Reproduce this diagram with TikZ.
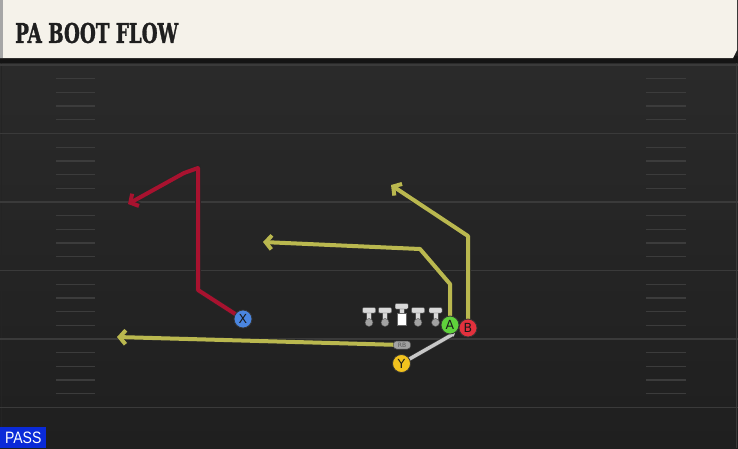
\documentclass[tikz,border=0pt]{standalone}
\usepackage{fontspec}
\usepackage{graphicx}
\usetikzlibrary{arrows.meta}
\newfontfamily\titlefont[FakeBold=1.6]{DejaVu Serif}
\newfontfamily\lblfont{DejaVu Sans}
\newfontfamily\passfont{Liberation Sans}
\definecolor{cream}{HTML}{F5F2EA}
\definecolor{fieldtop}{HTML}{2A2A2A}
\definecolor{fieldbot}{HTML}{1F1F1F}
\definecolor{yardline}{HTML}{3A3A3A}
\definecolor{hashcol}{HTML}{3C3C3C}
\definecolor{routeY}{HTML}{BAB84F}
\definecolor{routeR}{HTML}{A8122F}
\definecolor{pblue}{HTML}{4A86E0}
\definecolor{pgreen}{HTML}{5FD23C}
\definecolor{pred}{HTML}{E2313D}
\definecolor{pyellow}{HTML}{F2C21E}
\definecolor{passblue}{HTML}{0A2AD8}
\definecolor{tgray}{HTML}{D9D9D9}
\definecolor{cgray}{HTML}{A2A2A2}
\definecolor{fakegray}{HTML}{C8C8C8}
\pgfdeclarelayer{fieldlayer}
\pgfdeclarelayer{routelayer}
\pgfsetlayers{fieldlayer,routelayer,main}
\begin{document}
\begin{tikzpicture}[x=1pt,y=-1pt,
  route/.style={line width=4pt, line join=round,
    -{Straight Barb[length=6pt,width=14pt]},
    preaction={draw=black!85, line width=5.6pt}},
  fakeline/.style={draw=fakegray, line width=3.5pt,
    -{Triangle[length=3pt,width=5pt]},
    preaction={draw=black!80, line width=4.8pt}},
  player/.style={circle, minimum size=18pt, inner sep=0pt, draw=black!80,
    line width=0.8pt, text=black!90, font=\lblfont\fontsize{12.5}{12.5}\selectfont},
  rbtag/.style={rectangle, rounded corners=3pt, fill=cgray, draw=black!70,
    line width=0.5pt, minimum width=17pt, minimum height=8pt, inner sep=0pt,
    text=black!65, font=\lblfont\fontsize{6}{6}\selectfont},
  lineman/.pic={
    \fill[tgray, draw=black!70, line width=0.4pt] (-2.6,312) rectangle (2.6,321);
    \fill[tgray, draw=black!70, line width=0.4pt, rounded corners=1pt] (-6.5,307.5) rectangle (6.5,313);
    \fill[cgray, draw=black!70, line width=0.4pt] (0,322.5) circle (4);
  },
  centerman/.pic={
    \fill[tgray, draw=black!70, line width=0.4pt] (-2.6,308) rectangle (2.6,314);
    \fill[tgray, draw=black!70, line width=0.4pt, rounded corners=1pt] (-6.5,303.5) rectangle (6.5,309);
    \fill[white, draw=black!60, line width=0.4pt] (-4.5,313.5) rectangle (4.5,325);
  }]
\useasboundingbox (0,0) rectangle (738,448);

\begin{pgfonlayer}{fieldlayer}
  \fill[fieldbot] (0,0) rectangle (738,448);
  \shade[top color=fieldtop, bottom color=fieldbot] (0,62) rectangle (738,448);
  \draw[black!15!fieldtop, line width=1pt] (1,62) -- (1,448);
  \draw[yardline, line width=1pt] (736.5,62) -- (736.5,448);
  \foreach \yy in {65,133.5,202,270.5,339,407.5}
    \draw[yardline, line width=1.5pt] (0,\yy) -- (738,\yy);
  \foreach \yy in {65,133.5,202,270.5,339}
    \foreach \k in {1,2,3,4} {
      \draw[hashcol, line width=1.3pt] (56,\yy+13.7*\k) -- (95,\yy+13.7*\k);
      \draw[hashcol, line width=1.3pt] (646,\yy+13.7*\k) -- (686,\yy+13.7*\k);
    }
  % header
  \fill[black!92] (0,56) rectangle (738,63);
  \fill[cream] (0,0) -- (737,0) -- (737,50) -- (733,58) -- (0,58) -- cycle;
  \fill[black!35] (0,0) rectangle (3,58);
\end{pgfonlayer}

\node[anchor=west, inner sep=0pt, text=black!88] (title) at (15,33)
  {\resizebox{163pt}{20pt}{\titlefont\bfseries PA BOOT FLOW}};

% players
\node[player, fill=pblue] (X) at (243,319) {X};
\node[player, fill=pgreen] (A) at (450,325) {A};
\node[player, fill=pred] (B) at (468,328) {B};
\node[player, fill=pyellow] (Y) at (401.5,363.5) {Y};
\node[rbtag] (RB) at (402,345) {RB};

% route points
\coordinate (x1) at (198,290);
\coordinate (x2) at (198,168);
\coordinate (x3) at (184,173);
\coordinate (x4) at (128,204);
\coordinate (a1) at (450,284);
\coordinate (a2) at (420,249);
\coordinate (a3) at (263,242);
\coordinate (b1) at (468,236);
\coordinate (b2) at (391,185);
\coordinate (r1) at (117,337);
\coordinate (f1) at (455,333);

\begin{pgfonlayer}{routelayer}
  \draw[route, routeR] (X.center) -- (x1) -- (x2) -- (x3) -- (x4);
  \draw[route, routeY] (A.center) -- (a1) -- (a2) -- (a3);
  \draw[route, routeY] (B.center) -- (b1) -- (b2);
  \draw[route, routeY] (RB.center) -- (r1);
  \draw[fakeline] (Y.center) -- (f1);
\end{pgfonlayer}

% offensive line
\pic at (369,0) {lineman};
\pic at (385,0) {lineman};
\pic at (401.7,0) {centerman};
\pic at (418,0) {lineman};
\pic at (435.5,0) {lineman};

\node[fill=passblue, minimum width=46pt, minimum height=20.5pt, anchor=south west,
  inner sep=0pt, text=white] (pass) at (0,448)
  {\scalebox{0.85}[1]{\passfont\fontsize{16.5}{16.5}\selectfont PASS}};
\end{tikzpicture}
\end{document}
